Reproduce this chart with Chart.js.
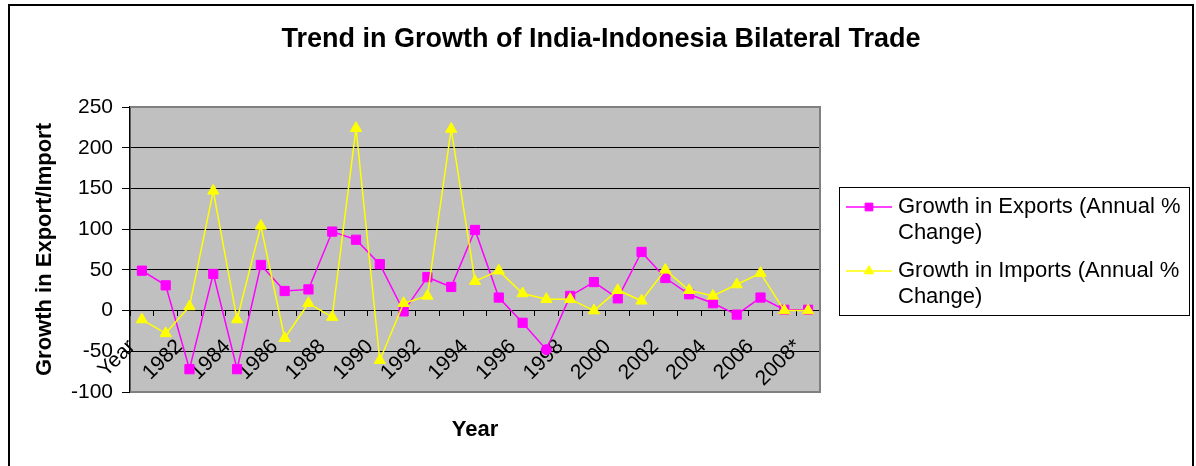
<!DOCTYPE html>
<html>
<head>
<meta charset="utf-8">
<title>India-Indonesia Bilateral Trade</title>
<script src="https://cdn.jsdelivr.net/npm/chart.js@4.4.0/dist/chart.umd.min.js"></script>
<style>
  body { margin: 0; background: #fff; }
  canvas { display: block; }
</style>
</head>
<body>
<canvas id="tradeChart" width="1196" height="466"></canvas>
<script>
// annual % change of India's trade with Indonesia
var years = ['Year', '1981', '1982', '1983', '1984', '1985', '1986', '1987', '1988', '1989',
  '1990', '1991', '1992', '1993', '1994', '1995', '1996', '1997', '1998', '1999',
  '2000', '2001', '2002', '2003', '2004', '2005', '2006', '2007', '2008*'];
var exportGrowth = [49, 31, -72, 45, -72, 56, 24, 26, 97, 87, 57, -1, 41, 29, 99,
  16, -15, -48, 18, 35, 15, 72, 40, 20, 9, -5, 16, 1, 1];
var importGrowth = [-11, -28, 5, 147, -11, 104, -34, 9, -8, 224, -61, 9, 18, 223, 36,
  49, 21, 14, 14, 0, 25, 12, 50, 25, 18, 32, 46, 0, 0];

var exportLegend = ['Growth in Exports (Annual %', 'Change)'];
var importLegend = ['Growth in Imports (Annual %', 'Change)'];
var chartTitle = 'Trend in Growth of India-Indonesia Bilateral Trade';

var fontFamily = '"Liberation Sans", Arial, sans-serif';
Chart.defaults.font.family = fontFamily;
Chart.defaults.color = '#000';

// grey plot area, chart frame, title and the two-line legend
var framePlugin = {
  id: 'frame',
  beforeDraw: function (chart) {
    var ctx = chart.ctx, a = chart.chartArea;
    ctx.save();
    ctx.fillStyle = '#fff';
    ctx.fillRect(0, 0, chart.width, chart.height);
    ctx.fillStyle = '#C0C0C0';
    ctx.fillRect(a.left, a.top, a.right - a.left, a.bottom - a.top);
    ctx.restore();
  },
  beforeDatasetsDraw: function (chart) {
    var ctx = chart.ctx, a = chart.chartArea;
    ctx.save();
    ctx.strokeStyle = '#808080';
    ctx.lineWidth = 2;
    ctx.beginPath();
    ctx.moveTo(a.left, a.top);
    ctx.lineTo(a.right, a.top);
    ctx.lineTo(a.right, a.bottom);
    ctx.lineTo(a.left, a.bottom);
    ctx.stroke();
    ctx.restore();
  },
  afterDraw: function (chart) {
    var ctx = chart.ctx;
    ctx.save();
    ctx.strokeStyle = '#000';
    ctx.lineWidth = 2;
    ctx.strokeRect(9, 5, 1184, 470);

    ctx.fillStyle = '#000';
    ctx.font = 'bold 27px ' + fontFamily;
    ctx.textAlign = 'center';
    ctx.textBaseline = 'middle';
    ctx.fillText(chartTitle, 601, 40);

    ctx.lineWidth = 1;
    ctx.strokeRect(839.5, 187.5, 350, 128);
    ctx.font = '22px ' + fontFamily;
    ctx.textAlign = 'left';
    var lines = [exportLegend, importLegend];
    chart.data.datasets.forEach(function (ds, i) {
      var y = 207 + i * 64;
      ctx.strokeStyle = ds.borderColor;
      ctx.lineWidth = 1.5;
      ctx.beginPath();
      ctx.moveTo(846, y);
      ctx.lineTo(892, y);
      ctx.stroke();
      ctx.fillStyle = ds.backgroundColor;
      ctx.lineWidth = 1;
      Chart.helpers.drawPoint(ctx, { pointStyle: i === 0 ? 'rect' : 'triangle', radius: 5.5, borderWidth: 1, rotation: 0 }, 869, y);
      ctx.fillStyle = '#000';
      lines[i].forEach(function (t, j) {
        ctx.fillText(t, 898, y + j * 26);
      });
    });
    ctx.restore();
  }
};

var myChart = new Chart(document.getElementById('tradeChart'), {
  type: 'line',
  data: {
    labels: years,
    datasets: [{
      label: exportLegend.join(' '),
      data: exportGrowth,
      borderColor: '#FF00FF',
      backgroundColor: '#FF00FF',
      borderWidth: 1.5,
      // the 1998 point is marked with a dot
      pointStyle: function (c) { return c.dataIndex === 17 ? 'circle' : 'rect'; },
      pointRadius: function (c) { return c.dataIndex === 17 ? 5 : 6.5; },
      pointBorderWidth: 1,
      order: 2
    }, {
      label: importLegend.join(' '),
      data: importGrowth,
      borderColor: '#FFFF00',
      backgroundColor: '#FFFF00',
      borderWidth: 1.5,
      pointStyle: 'triangle',
      pointRadius: 6.5,
      pointBorderWidth: 1,
      order: 1
    }]
  },
  options: {
    responsive: false,
    animation: false,
    layout: { padding: { top: 107, right: 376, bottom: 74, left: 32 } },
    plugins: {
      legend: { display: false },
      tooltip: { enabled: false }
    },
    scales: {
      x: {
        position: { y: 0 },
        offset: true,
        grid: { drawOnChartArea: false, offset: true, tickLength: 5, color: '#000' },
        border: { color: '#000', width: 1 },
        ticks: {
          autoSkip: false,
          minRotation: 45,
          maxRotation: 45,
          padding: 19,
          labelOffset: -10,
          font: { size: 21 },
          callback: function (v, i) { return i % 2 === 0 ? this.getLabelForValue(v) : ''; }
        },
        title: {
          display: true,
          text: 'Year',
          font: { size: 22, weight: 'bold' },
          padding: { top: 0, bottom: -59 }
        },
        afterFit: function (scale) { scale.height = 74; }
      },
      y: {
        min: -100,
        max: 250,
        ticks: { stepSize: 50, padding: 9, font: { size: 21 } },
        grid: { color: '#000', tickLength: 8 },
        border: { color: '#000', width: 1.5 },
        title: {
          display: true,
          text: 'Growth in Export/Import',
          font: { size: 22, weight: 'bold' },
          padding: { top: 0, bottom: 0 }
        },
        afterFit: function (scale) { scale.width = 98; }
      }
    }
  },
  plugins: [framePlugin]
});
</script>
</body>
</html>
